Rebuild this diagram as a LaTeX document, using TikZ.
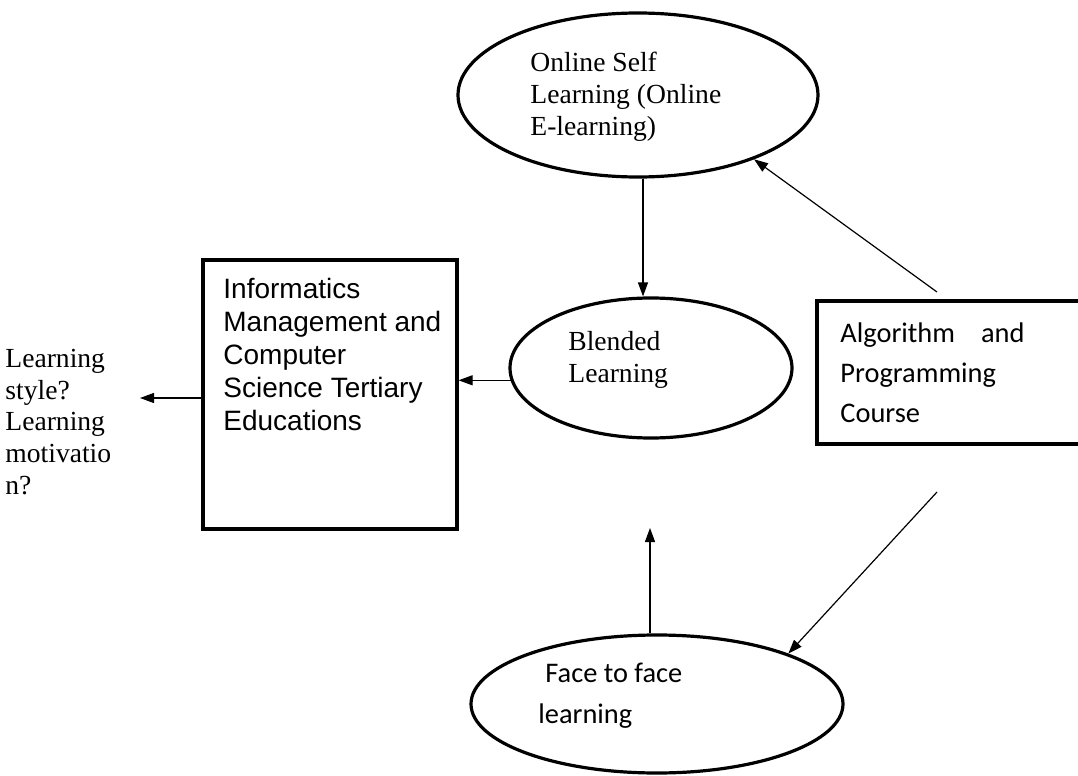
\documentclass[tikz,border=0pt]{standalone}
\usepackage{fontspec}
\setmainfont{Liberation Serif}
\setsansfont{Liberation Sans}
\newfontfamily\calibrifont{Carlito}
\usetikzlibrary{positioning,arrows.meta,shapes.geometric}

\begin{document}
\begin{tikzpicture}[x=0.5pt, y=-0.5pt,
  oval/.style={draw, ellipse, line width=1.6pt, inner sep=0pt},
  panel/.style={draw, line width=1.6pt, inner sep=0pt},
  note/.style={align=left, inner sep=0pt, anchor=north west},
  link/.style={line width=0.6pt, -{Triangle[length=7pt, width=5pt]}},
  serifnote/.style={note, font=\fontsize{13.8}{15.8}\selectfont},
  arialnote/.style={note, font=\sffamily\fontsize{14}{16.5}\selectfont},
  calibrinote/.style={note, font=\calibrifont\fontsize{14.2}{20.2}\selectfont}
]
\useasboundingbox (0,0) rectangle (1078,776);

% shapes
\node[oval, minimum width=180pt, minimum height=82pt] (online) at (638,95) {};
\node[oval, minimum width=141pt, minimum height=70pt] (blended) at (651,368) {};
\node[oval, minimum width=186pt, minimum height=69pt] (f2f) at (657,704) {};
\node[panel, minimum width=127pt, minimum height=134.5pt] (infobox) at (330,394.5) {};
\node[panel, minimum width=134pt, minimum height=71.5pt] (algobox) at (951,372.5) {};

% texts
\node[serifnote] (onlinetext) at (530,52)
  {Online Self\\Learning (Online\\E-learning)};
\node[serifnote] (blendedtext) at (568,331) {Blended\\Learning};
\node[serifnote] (styletext) at (5,349)
  {Learning\\style?\\Learning\\motivatio\\n?};
\node[arialnote] (infotext) at (223,278)
  {Informatics\\Management and\\Computer\\Science Tertiary\\Educations};
\node[calibrinote] (algotext) at (840,322)
  {Algorithm\hspace{13pt}and\\Programming\\Course};
\node[calibrinote] (f2ftext) at (538,663) {\hspace{3.5pt}Face to face\\learning};

% free ends
\coordinate (blendtop) at ([xshift=-4pt]blended.north);
\coordinate (algotop) at (937,292);
\coordinate (algobot) at (937,492);
\coordinate (styleend) at (140,398);
\coordinate (upend) at (650,528);

% connectors
\draw[link] (online.south -| blendtop) -- (blendtop);
\draw[link] (blended.185.5) -- (blended.185.5 -| infobox.east);
\draw[link] (infobox.west |- styleend) -- (styleend);
\draw[link] (algotop) -- (online.-29);
\draw[link] (algobot) -- (f2f.21);
\draw[link] (f2f.north -| upend) -- (upend);
\end{tikzpicture}
\end{document}
